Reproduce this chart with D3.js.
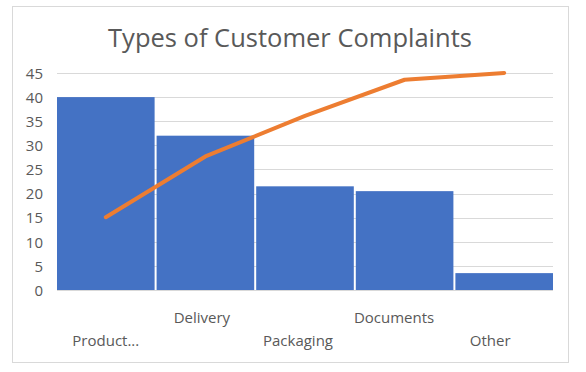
<!DOCTYPE html>
<html>
<head>
<meta charset="utf-8">
<script src="https://cdn.jsdelivr.net/npm/d3@7"></script>
<style>
  body { margin: 0; background: #fff; }
  text { font-family: "Open Sans", "Noto Sans", sans-serif; fill: #595959; }
</style>
</head>
<body>
<div id="container"></div>
<script>
var categories = ["Product...", "Delivery", "Packaging", "Documents", "Other"];
var complaints = [40, 32, 21.5, 20.5, 3.5];
var cumulative = [15.1, 27.7, 36.1, 43.6, 45];
var yTicks = [0, 5, 10, 15, 20, 25, 30, 35, 40, 45];

var width = 586, height = 372;
var plot = { left: 57, right: 553, top: 73, bottom: 290 };

var svg = d3.select("#container")
  .append("svg")
  .attr("width", width)
  .attr("height", height);

// chart frame
svg.append("rect")
  .attr("x", 12.5)
  .attr("y", 6.5)
  .attr("width", 556)
  .attr("height", 356)
  .attr("fill", "#fff")
  .attr("stroke", "#d9d9d9");

svg.append("text")
  .attr("x", 290)
  .attr("y", 47)
  .attr("text-anchor", "middle")
  .style("font-size", "25.5px")
  .text("Types of Customer Complaints");

var x = d3.scaleBand()
  .domain(categories)
  .range([plot.left, plot.right])
  .paddingInner(0.02)
  .paddingOuter(0);

var y = d3.scaleLinear()
  .domain([0, 45])
  .range([plot.bottom, plot.top]);

// gridlines
svg.append("g")
  .selectAll("line")
  .data(yTicks)
  .join("line")
  .attr("x1", plot.left)
  .attr("x2", plot.right)
  .attr("y1", function (d) { return Math.round(y(d)) + 0.5; })
  .attr("y2", function (d) { return Math.round(y(d)) + 0.5; })
  .attr("stroke", "#d9d9d9");

var yAxis = svg.append("g")
  .attr("transform", "translate(" + (plot.left - 14) + ",0)")
  .call(d3.axisLeft(y).tickValues(yTicks).tickSize(0).tickPadding(0));
yAxis.select(".domain").remove();
yAxis.selectAll("text")
  .attr("dy", "0.35em")
  .style("font-size", "15px")
  .style("font-family", "\"Open Sans\", \"Noto Sans\", sans-serif")
  .attr("fill", "#595959");

svg.append("g")
  .selectAll("rect")
  .data(complaints)
  .join("rect")
  .attr("x", function (d, i) { return x(categories[i]); })
  .attr("width", x.bandwidth())
  .attr("y", function (d) { return y(d); })
  .attr("height", function (d) { return y(0) - y(d); })
  .attr("fill", "#4472c4");

var line = d3.line()
  .x(function (d, i) { return x(categories[i]) + x.bandwidth() / 2; })
  .y(function (d) { return y(d); });

svg.append("path")
  .datum(cumulative)
  .attr("d", line)
  .attr("fill", "none")
  .attr("stroke", "#ed7d31")
  .attr("stroke-width", 4)
  .attr("stroke-linecap", "round")
  .attr("stroke-linejoin", "round");

// staggered category labels
svg.append("g")
  .selectAll("text")
  .data(categories)
  .join("text")
  .attr("x", function (d, i) { return x(d) + x.bandwidth() / 2 - 3.5 * i; })
  .attr("y", function (d, i) { return i % 2 ? 323 : 346; })
  .attr("text-anchor", "middle")
  .style("font-size", "15px")
  .text(function (d) { return d; });
</script>
</body>
</html>
